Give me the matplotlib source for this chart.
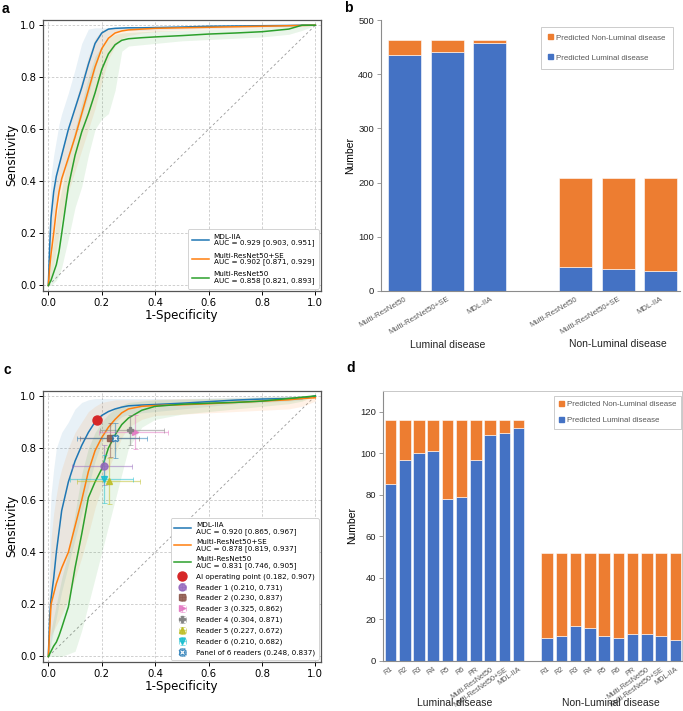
import numpy as np
import matplotlib
matplotlib.use("Agg")
import matplotlib.pyplot as plt
from matplotlib.patches import Patch

# ---------------- data ----------------
fpr = [0, 0.005, 0.01, 0.02, 0.03, 0.04, 0.05, 0.075, 0.1, 0.125, 0.15, 0.175, 0.2,
       0.225, 0.25, 0.275, 0.3, 0.35, 0.4, 0.5, 0.6, 0.7, 0.8, 0.9, 0.95, 1.0]

# panel a
a_mdl = [0, 0.15, 0.26, 0.36, 0.42, 0.46, 0.50, 0.60, 0.68, 0.76, 0.85, 0.93, 0.97,
         0.985, 0.988, 0.989, 0.99, 0.99, 0.991, 0.993, 0.996, 0.997, 0.998, 0.999, 1.0, 1.0]
a_mdl_hi = [0, 0.30, 0.42, 0.50, 0.56, 0.62, 0.66, 0.74, 0.83, 0.93, 0.985, 0.99, 0.99,
            0.99, 0.99, 0.99, 0.99, 0.99, 0.992, 0.995, 0.998, 1.0, 1.0, 1.0, 1.0, 1.0]
a_mdl_lo = [0, 0.05, 0.12, 0.22, 0.30, 0.35, 0.40, 0.48, 0.57, 0.65, 0.73, 0.83, 0.92,
            0.96, 0.975, 0.978, 0.98, 0.98, 0.982, 0.985, 0.988, 0.99, 0.992, 0.995, 0.998, 1.0]
a_se = [0, 0.07, 0.12, 0.20, 0.29, 0.36, 0.41, 0.49, 0.57, 0.66, 0.75, 0.84, 0.91,
        0.95, 0.97, 0.978, 0.982, 0.985, 0.988, 0.99, 0.992, 0.994, 0.996, 0.998, 0.999, 1.0]
a_se_hi = [0, 0.18, 0.28, 0.36, 0.42, 0.47, 0.52, 0.61, 0.70, 0.79, 0.88, 0.95, 0.98,
           0.99, 0.99, 0.99, 0.99, 0.99, 0.992, 0.995, 0.997, 0.998, 0.999, 1.0, 1.0, 1.0]
a_se_lo = [0, 0.01, 0.03, 0.08, 0.14, 0.20, 0.26, 0.36, 0.44, 0.52, 0.60, 0.68, 0.78,
           0.87, 0.92, 0.95, 0.96, 0.97, 0.975, 0.98, 0.983, 0.986, 0.99, 0.994, 0.997, 1.0]
a_r50 = [0, 0.01, 0.02, 0.05, 0.08, 0.13, 0.20, 0.38, 0.50, 0.59, 0.66, 0.74, 0.83,
         0.89, 0.925, 0.942, 0.948, 0.952, 0.955, 0.96, 0.966, 0.97, 0.975, 0.985, 1.0, 1.0]
a_r50_hi = [0, 0.05, 0.10, 0.18, 0.26, 0.32, 0.37, 0.50, 0.60, 0.70, 0.80, 0.88, 0.92,
            0.95, 0.965, 0.97, 0.972, 0.975, 0.978, 0.98, 0.983, 0.986, 0.99, 0.995, 1.0, 1.0]
a_r50_lo = [0, 0.0, 0.0, 0.01, 0.02, 0.04, 0.07, 0.18, 0.30, 0.38, 0.50, 0.60, 0.64,
            0.66, 0.75, 0.90, 0.92, 0.925, 0.93, 0.94, 0.945, 0.95, 0.955, 0.965, 0.98, 1.0]

# panel c
c_mdl = [0, 0.15, 0.22, 0.30, 0.40, 0.48, 0.56, 0.67, 0.75, 0.81, 0.86, 0.90, 0.925,
         0.94, 0.95, 0.957, 0.962, 0.965, 0.967, 0.972, 0.978, 0.984, 0.988, 0.99, 0.99, 1.0]
c_mdl_hi = [0, 0.50, 0.62, 0.72, 0.80, 0.83, 0.86, 0.90, 0.95, 0.975, 0.985, 0.99, 0.99,
            0.99, 0.99, 0.99, 0.99, 0.99, 0.99, 0.99, 0.992, 0.995, 0.997, 1.0, 1.0, 1.0]
c_mdl_lo = [0, 0.02, 0.05, 0.10, 0.15, 0.20, 0.25, 0.35, 0.45, 0.55, 0.65, 0.75, 0.82,
            0.87, 0.90, 0.92, 0.93, 0.935, 0.94, 0.95, 0.96, 0.97, 0.975, 0.98, 0.985, 1.0]
c_se = [0, 0.10, 0.20, 0.24, 0.28, 0.31, 0.34, 0.40, 0.50, 0.60, 0.71, 0.79, 0.84,
        0.88, 0.91, 0.935, 0.95, 0.96, 0.963, 0.966, 0.97, 0.975, 0.98, 0.985, 0.99, 0.993]
c_se_hi = [0, 0.30, 0.45, 0.55, 0.62, 0.68, 0.72, 0.80, 0.86, 0.90, 0.94, 0.96, 0.975,
           0.98, 0.985, 0.985, 0.985, 0.985, 0.987, 0.99, 0.99, 0.992, 0.995, 0.997, 0.998, 1.0]
c_se_lo = [0, 0.02, 0.08, 0.10, 0.12, 0.14, 0.16, 0.22, 0.30, 0.38, 0.47, 0.57, 0.65,
           0.72, 0.78, 0.84, 0.88, 0.91, 0.925, 0.93, 0.935, 0.94, 0.945, 0.95, 0.96, 0.98]
c_r50 = [0, 0.01, 0.02, 0.04, 0.055, 0.08, 0.11, 0.19, 0.34, 0.47, 0.61, 0.67, 0.72,
         0.80, 0.85, 0.89, 0.915, 0.945, 0.96, 0.968, 0.972, 0.975, 0.98, 0.99, 0.995, 1.0]
c_r50_hi = [0, 0.05, 0.10, 0.15, 0.20, 0.25, 0.30, 0.40, 0.55, 0.70, 0.80, 0.86, 0.90,
            0.93, 0.95, 0.965, 0.975, 0.98, 0.985, 0.987, 0.99, 0.992, 0.995, 0.997, 1.0, 1.0]
c_r50_lo = [0, 0.0, 0.0, 0.0, 0.0, 0.0, 0.0, 0.01, 0.02, 0.10, 0.20, 0.30, 0.40,
            0.50, 0.60, 0.70, 0.80, 0.88, 0.91, 0.93, 0.94, 0.95, 0.96, 0.97, 0.98, 1.0]

ai_point = (0.182, 0.907)
reader_names = ["Reader 1", "Reader 2", "Reader 3", "Reader 4", "Reader 5", "Reader 6",
                "Panel of 6 readers"]
reader_fpr = [0.210, 0.230, 0.325, 0.304, 0.227, 0.210, 0.248]
reader_sens = [0.731, 0.837, 0.862, 0.871, 0.672, 0.682, 0.837]
reader_fpr_lo = [0.088, 0.12, 0.19, 0.195, 0.106, 0.081, 0.106]
reader_fpr_hi = [0.313, 0.34, 0.45, 0.435, 0.344, 0.316, 0.369]
reader_sens_lo = [0.658, 0.767, 0.795, 0.81, 0.585, 0.59, 0.76]
reader_sens_hi = [0.81, 0.897, 0.925, 0.927, 0.763, 0.773, 0.897]

# panel b
b_models = ["Multi-ResNet50", "Multi-ResNet50+SE", "MDL-IIA"]
b_lum_total = [464, 464, 464]
b_lum_pred_lum = [435, 441, 457]
b_non_total = [208, 208, 208]
b_non_pred_lum = [45, 41, 37]

# panel d
d_labels = ["R1", "R2", "R3", "R4", "R5", "R6", "PR", "Multi-ResNet50",
            "Multi-ResNet50+SE", "MDL-IIA"]
d_lum_total = [116] * 10
d_lum_pred_lum = [85, 97, 100, 101, 78, 79, 97, 109, 110, 112]
d_non_total = [52] * 10
d_non_pred_lum = [11, 12, 17, 16, 12, 11, 13, 13, 12, 10]

# ---------------- figure ----------------
W, H = 683, 711
fig = plt.figure(figsize=(W / 100, H / 100), dpi=100)


def ax_px(l, t, r, b):
    return fig.add_axes([l / W, 1 - b / H, (r - l) / W, (b - t) / H])


C_BLUE, C_ORANGE, C_GREEN = "#1f77b4", "#ff7f0e", "#2ca02c"


def roc_panel(ax, curves, legend_labels):
    ax.plot([0, 1], [0, 1], ls=(0, (3, 3)), color="#999999", lw=0.6, zorder=1)
    handles = []
    for (tpr, lo, hi, col), lab in zip(curves, legend_labels):
        ax.fill_between(fpr, lo, hi, color=col, alpha=0.1, lw=0, zorder=1)
    for (tpr, lo, hi, col), lab in zip(curves, legend_labels):
        h, = ax.plot(fpr, tpr, color=col, lw=1.1, label=lab, zorder=3)
        handles.append(h)
    ax.set_xlim(-0.02, 1.02)
    ax.set_ylim(-0.02, 1.02)
    ax.set_xticks([0, 0.2, 0.4, 0.6, 0.8, 1.0])
    ax.set_yticks([0, 0.2, 0.4, 0.6, 0.8, 1.0])
    ax.grid(True, ls=(0, (3, 2)), color="#c8c8c8", lw=0.6)
    ax.set_axisbelow(True)
    ax.tick_params(labelsize=7.3, length=3, width=0.7, pad=2)
    ax.set_xlabel("1-Specificity", fontsize=8.6, labelpad=1)
    ax.set_ylabel("Sensitivity", fontsize=8.6, labelpad=1.5)
    for s in ax.spines.values():
        s.set_color("#555555")
        s.set_linewidth(0.9)
    return handles


def style_legend(lg):
    lg.get_frame().set_linewidth(0.6)
    for t in lg.get_texts():
        t.set_linespacing(1.0)


# panel a
ax_a = ax_px(43, 20, 320.7, 290.7)
ha = roc_panel(ax_a,
               [(a_mdl, a_mdl_lo, a_mdl_hi, C_BLUE),
                (a_se, a_se_lo, a_se_hi, C_ORANGE),
                (a_r50, a_r50_lo, a_r50_hi, C_GREEN)],
               ["MDL-IIA\nAUC = 0.929 [0.903, 0.951]",
                "Multi-ResNet50+SE\nAUC = 0.902 [0.871, 0.929]",
                "Multi-ResNet50\nAUC = 0.858 [0.821, 0.893]"])
lg = ax_a.legend(handles=ha, loc="lower right", fontsize=5.2, handlelength=2.3,
                 handletextpad=0.7, borderpad=0.6, labelspacing=0.85, framealpha=1,
                 edgecolor="#cccccc", fancybox=True, borderaxespad=0.3)
style_legend(lg)

# panel c
ax_c = ax_px(43, 390.7, 320.7, 661.7)
hc = roc_panel(ax_c,
               [(c_mdl, c_mdl_lo, c_mdl_hi, C_BLUE),
                (c_se, c_se_lo, c_se_hi, C_ORANGE),
                (c_r50, c_r50_lo, c_r50_hi, C_GREEN)],
               ["MDL-IIA\nAUC = 0.920 [0.865, 0.967]",
                "Multi-ResNet50+SE\nAUC = 0.878 [0.819, 0.937]",
                "Multi-ResNet50\nAUC = 0.831 [0.746, 0.905]"])
h_ai, = ax_c.plot([ai_point[0]], [ai_point[1]], "o", color="#d62728", ms=6.5, zorder=6,
                  label="AI operating point (%.3f, %.3f)" % ai_point, ls="none")
r_colors = ["#9467bd", "#8c564b", "#e377c2", "#7f7f7f", "#bcbd22", "#17becf", "#1f77b4"]
r_markers = ["o", "s", ">", "P", "^", "v", "X"]
r_handles = []
for i in range(len(reader_names)):
    x, y = reader_fpr[i], reader_sens[i]
    xerr = [[x - reader_fpr_lo[i]], [reader_fpr_hi[i] - x]]
    yerr = [[y - reader_sens_lo[i]], [reader_sens_hi[i] - y]]
    eb = ax_c.errorbar([x], [y], xerr=xerr, yerr=yerr, fmt=r_markers[i],
                       color=r_colors[i], ms=5 if i < 6 else 4.5, ecolor=r_colors[i],
                       elinewidth=0.9, capsize=1.8, capthick=0.7, alpha=0.85, zorder=5,
                       mfc=r_colors[i] if i < 6 else "white",
                       label="%s (%.3f, %.3f)" % (reader_names[i], x, y))
    for ln in eb[2]:
        ln.set_alpha(0.5)
    for cp in eb[1]:
        cp.set_alpha(0.5)
    r_handles.append(eb)
lg = ax_c.legend(handles=hc + [h_ai] + r_handles, loc="lower right", fontsize=5.2,
                 handlelength=2.3, handletextpad=0.7, borderpad=0.5, labelspacing=0.6,
                 framealpha=1, edgecolor="#cccccc", fancybox=True, borderaxespad=0.3)
style_legend(lg)

# ---------------- bar panels ----------------
BAR_BLUE, BAR_ORANGE = "#4472C4", "#ED7D31"
GRAY_TXT = "#595959"
ARIAL = ["Liberation Sans", "DejaVu Sans"]


def bar_panel(ax, pos, totals, pred_lum, width):
    pred_non = [t - p for t, p in zip(totals, pred_lum)]
    ax.bar(pos, pred_lum, width=width, color=BAR_BLUE, edgecolor="white", lw=0.4)
    ax.bar(pos, pred_non, bottom=pred_lum, width=width, color=BAR_ORANGE,
           edgecolor="white", lw=0.4)
    for s in ["top", "right"]:
        ax.spines[s].set_visible(False)
    for s in ["left", "bottom"]:
        ax.spines[s].set_color("#8c8c8c")
        ax.spines[s].set_linewidth(0.8)
    ax.tick_params(axis="y", labelsize=6.8, labelcolor="#222222", length=3,
                   width=0.6, color="#8c8c8c", pad=2)
    ax.tick_params(axis="x", length=0)
    leg_h = [Patch(color=BAR_ORANGE, label="Predicted Non-Luminal disease"),
             Patch(color=BAR_BLUE, label="Predicted Luminal disease")]
    return leg_h


# panel b
ax_b = ax_px(381, 20, 680, 291)
b_pos = [0, 1, 2, 4, 5, 6]
leg_h = bar_panel(ax_b, b_pos, b_lum_total + b_non_total,
                  b_lum_pred_lum + b_non_pred_lum, 0.77)
ax_b.set_xlim(-0.55, 6.45)
ax_b.set_ylim(0, 500)
ax_b.set_yticks([0, 100, 200, 300, 400, 500])
for t in ax_b.get_yticklabels():
    t.set_fontfamily(ARIAL)
ax_b.set_xticks(b_pos)
ax_b.set_xticklabels(b_models + b_models, rotation=30, ha="right",
                     rotation_mode="anchor", fontsize=5.6, color=GRAY_TXT,
                     family=ARIAL)
ax_b.set_ylabel("Number", fontsize=7.5, family=ARIAL, labelpad=2)
ax_b.text(1, -0.2, "Luminal disease", transform=ax_b.get_xaxis_transform(),
          ha="center", va="center", fontsize=7.5, family=ARIAL, color="#222222")
ax_b.text(5, -0.195, "Non-Luminal disease", transform=ax_b.get_xaxis_transform(),
          ha="center", va="center", fontsize=7.5, family=ARIAL, color="#222222")
lg = ax_b.legend(handles=leg_h, loc="upper right", bbox_to_anchor=(0.975, 0.975),
                 prop={"family": ARIAL, "size": 5.7}, handlelength=0.6,
                 handleheight=0.6, handletextpad=0.35, labelspacing=1.6,
                 borderpad=0.95, frameon=True, fancybox=False, edgecolor="#bfbfbf",
                 borderaxespad=0)
for t in lg.get_texts():
    t.set_color(GRAY_TXT)
lg.get_frame().set_linewidth(0.7)

# panel d
ax_d = ax_px(383, 391, 681.7, 661)
d_pos = list(range(10)) + list(range(11, 21))
bar_panel(ax_d, d_pos, d_lum_total + d_non_total,
          d_lum_pred_lum + d_non_pred_lum, 0.81)
for s in ["top", "right"]:
    ax_d.spines[s].set_visible(True)
    ax_d.spines[s].set_color("#c8c8c8")
    ax_d.spines[s].set_linewidth(0.7)
ax_d.set_xlim(-0.53, 20.45)
ax_d.set_ylim(0, 130)
ax_d.set_yticks([0, 20, 40, 60, 80, 100, 120])
for t in ax_d.get_yticklabels():
    t.set_fontfamily(ARIAL)
ax_d.set_xticks(d_pos)
ax_d.set_xticklabels(d_labels + d_labels, rotation=35, ha="right",
                     rotation_mode="anchor", fontsize=5.2, color=GRAY_TXT,
                     family=ARIAL)
ax_d.set_ylabel("Number", fontsize=7.5, family=ARIAL, labelpad=2)
ax_d.text(4.5, -0.155, "Luminal disease", transform=ax_d.get_xaxis_transform(),
          ha="center", va="center", fontsize=7.5, family=ARIAL, color="#222222")
ax_d.text(15.5, -0.155, "Non-Luminal disease", transform=ax_d.get_xaxis_transform(),
          ha="center", va="center", fontsize=7.5, family=ARIAL, color="#222222")
lg = ax_d.legend(handles=leg_h, loc="upper right", bbox_to_anchor=(0.997, 0.98),
                 prop={"family": ARIAL, "size": 5.7}, handlelength=0.6,
                 handleheight=0.6, handletextpad=0.35, labelspacing=1.05,
                 borderpad=0.6, frameon=True, fancybox=False, edgecolor="#bfbfbf",
                 borderaxespad=0)
for t in lg.get_texts():
    t.set_color(GRAY_TXT)
lg.get_frame().set_linewidth(0.7)

# panel letters
for lbl, x, y in [("a", 2, 9), ("b", 344, 8), ("c", 3, 370), ("d", 346, 368)]:
    fig.text(x / W, 1 - y / H, lbl, fontsize=10, fontweight="bold", ha="left",
             va="center", family=ARIAL)

fig.savefig("out.png", dpi=100)
